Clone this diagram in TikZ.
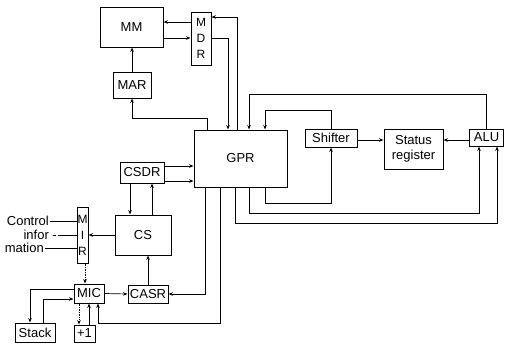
\documentclass[tikz,border=0pt]{standalone}
\usepackage{fontspec}
\setmainfont{Liberation Sans}
\usetikzlibrary{arrows.meta}

\tikzset{
  unit/.style={draw, line width=1pt, inner sep=1pt, align=center,
    font=\fontsize{13}{15}\selectfont},
  tall/.style={unit, inner sep=0pt, font=\fontsize{12}{16}\selectfont},
  caption/.style={inner sep=1pt, align=right, font=\fontsize{13}{15}\selectfont},
  wire/.style={line width=0.7pt},
  feed/.style={wire, ->},
  hint/.style={wire, ->, densely dotted},
}

\begin{document}
\begin{tikzpicture}[x=1pt, y=-1pt, >={Stealth[length=4.5pt, width=3.5pt]}]
    \useasboundingbox (0,0) rectangle (505,351);

    % Memory side
    \node[unit, minimum width=63pt, minimum height=40pt] (MM) at (131.5,27) {MM};
    \node[tall, minimum width=20pt, minimum height=53pt] (MDR) at (201,38.5) {M\\D\\R};
    \node[unit, minimum width=38pt, minimum height=26pt] (MAR) at (132,85) {MAR};

    % Data path
    \node[unit, minimum width=93pt, minimum height=57pt] (GPR) at (240.5,158.5) {GPR};
    \node[unit, minimum width=52pt, minimum height=18pt] (SHF) at (331,138) {Shifter};
    \node[unit, minimum width=59pt, minimum height=40pt] (SR) at (413.5,149) {Status\\register};
    \node[unit, minimum width=34pt, minimum height=17pt] (ALU) at (486.5,137.5) {ALU};

    % Control side
    \node[unit, minimum width=44pt, minimum height=21pt] (CSDR) at (142,172.5) {CSDR};
    \node[unit, minimum width=56pt, minimum height=40pt] (CS) at (143,235) {CS};
    \node[tall, minimum width=11pt, minimum height=56pt] (MIR) at (82.5,235) {M\\I\\R};
    \node[unit, minimum width=30pt, minimum height=19pt] (MIC) at (89,293.5) {MIC};
    \node[unit, minimum width=40pt, minimum height=18pt] (CASR) at (148,294) {CASR};
    \node[unit, minimum width=40pt, minimum height=19pt] (STK) at (35,332.5) {Stack};
    \node[unit, minimum width=21pt, minimum height=17pt] (INC) at (84.5,333.5) {+1};

    \node[caption, anchor=east] (ctlA) at (50,221) {Control};
    \node[caption, anchor=east] (ctlB) at (58,235) {infor -};
    \node[caption, anchor=east] (ctlC) at (45,248) {mation};

    % Memory connections
    \draw[feed] (MDR.west |- 0,22) -- (MM.east |- 0,22);
    \draw[feed] (MM.east |- 0,38) -- (MDR.west |- 0,38);
    \draw[feed] (MAR.north) -- (MAR.north |- MM.south);
    \draw[feed] (GPR.north -| 207,0) -- (207,118) -| (MAR.south);
    \draw[feed] (MDR.east |- 0,38) -| (GPR.north -| 228,0);
    \draw[feed] (GPR.north -| 237,0) |- (MDR.east |- 0,17);

    % Data path connections
    \draw[feed] (ALU.north) -- (ALU.north |- 0,94) -| (GPR.north -| 249,0);
    \draw[feed] (SHF.north) -- (SHF.north |- 0,110) -| (GPR.north -| 265,0);
    \draw[feed] (SHF.east |- 0,140) -- (SR.west |- 0,140);
    \draw[feed] (ALU.west |- 0,140) -- (SR.east |- 0,140);
    \draw[feed] (GPR.south -| 265,0) -- (265,203) -| (SHF.south);
    \draw[feed] (GPR.south -| 249,0) -- (249,213) -| (ALU.south -| 479,0);
    \draw[feed] (GPR.south -| 235,0) -- (235,223) -| (ALU.south -| 497,0);

    % Control connections
    \draw[feed] (CSDR.east |- 0,166) -- (GPR.west |- 0,166);
    \draw[feed] (CSDR.east |- 0,181) -- (GPR.west |- 0,181);
    \draw[feed] (CSDR.south -| 130,0) -- (CS.north -| 130,0);
    \draw[feed] (CS.north -| 152,0) -- (CSDR.south -| 152,0);
    \draw[feed] (CS.west) -- (MIR.east);
    \draw[wire] (ctlA.east) -- (ctlA.east -| MIR.west);
    \draw[wire] (ctlB.east) -- (ctlB.east -| MIR.west);
    \draw[wire] (ctlC.east) -- (ctlC.east -| MIR.west);
    \draw[hint] (MIR.south -| 85,0) -- (MIC.north -| 85,0);
    \draw[feed] (MIC.east) -- (CASR.west);
    \draw[feed] (CASR.north) -- (CASR.north |- CS.south);
    \draw[feed] (GPR.south -| 205,0) |- (CASR.east);
    \draw[feed] (GPR.south -| 220,0) -- (220,323) -| (MIC.south -| 98,0);
    \draw[feed] (MIC.west |- 0,289) -| (STK.north -| 30,0);
    \draw[feed] (STK.north -| 43,0) |- (MIC.west |- 0,299);
    \draw[hint] (MIC.south -| 79,0) -- (INC.north -| 79,0);
    \draw[feed] (INC.north -| 89,0) -- (MIC.south -| 89,0);
\end{tikzpicture}
\end{document}
